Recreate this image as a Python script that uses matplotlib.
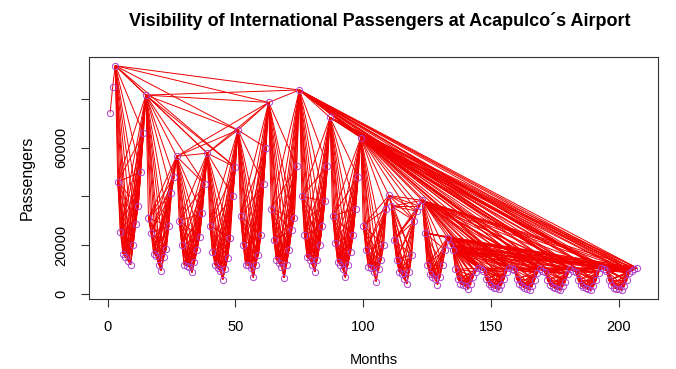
import numpy as np
import matplotlib
matplotlib.use("Agg")
import matplotlib.pyplot as plt
from matplotlib.collections import LineCollection

plt.rcParams['font.family'] = ['Liberation Sans', 'DejaVu Sans']

# monthly international passengers, one row per year (Jan..Dec)
year01 = [74500, 85000, 93800, 46000, 25500, 16500, 15000, 13500, 11800, 20000, 28500, 36000]
year02 = [50000, 66000, 81700, 31000, 25000, 16500, 15500, 12000, 9500, 15000, 18500, 28000]
year03 = [41500, 48000, 56500, 30000, 20000, 11800, 11500, 11000, 8800, 13000, 18000, 23500]
year04 = [33000, 45000, 57800, 28000, 17000, 12000, 10500, 9500, 5800, 10000, 14700, 23000]
year05 = [40000, 52000, 67300, 32000, 20000, 12000, 12000, 10500, 6700, 12000, 16000, 24000]
year06 = [45000, 60000, 78700, 35000, 22000, 14000, 12500, 11000, 6500, 12000, 18000, 26000]
year07 = [31000, 52500, 83800, 40000, 24000, 15000, 14000, 12000, 9000, 14000, 20000, 28000]
year08 = [38000, 52500, 72500, 32000, 21000, 13000, 12000, 10000, 6700, 12000, 17000, 24000]
year09 = [35000, 48000, 64200, 28000, 18000, 11000, 10500, 9000, 5000, 10000, 14000, 20000]
year10 = [35000, 40400, 36000, 22000, 14000, 9000, 8000, 6000, 4000, 9000, 16000, 30000]
year11 = [34000, 36000, 38400, 25000, 12000, 8000, 7000, 6000, 3700, 7000, 12000, 18000]
year12 = [23000, 20000, 18000, 10000, 6000, 4000, 3500, 3000, 2000, 4000, 7000, 9000]
year13 = [10500, 10000, 9500, 6000, 4000, 3000, 2500, 2200, 1800, 3500, 6000, 9000]
year14 = [10500, 10000, 9800, 6000, 4000, 3000, 2500, 2000, 1500, 3000, 5500, 8500]
year15 = [10000, 9500, 9000, 5500, 3500, 2800, 2200, 1800, 1500, 3000, 5000, 8000]
year16 = [10000, 9500, 9000, 5500, 3500, 2600, 2200, 1800, 1500, 3000, 5500, 8500]
year17 = [10500, 10000, 9500, 5500, 3500, 2500, 2000, 1800, 1500, 3000, 5500, 8500]
year18 = [9500, 10000, 10600]

passengers = np.array(year01 + year02 + year03 + year04 + year05 + year06 + year07 + year08 +
                      year09 + year10 + year11 + year12 + year13 + year14 + year15 + year16 +
                      year17 + year18, dtype=float)
months = np.arange(1, len(passengers) + 1)

x_ticks = [0, 50, 100, 150, 200]
y_ticks = [0, 20000, 40000, 60000, 80000]
y_tick_labels = ['0', '20000', '', '60000', '']

# natural visibility graph edges
edges = []
n = len(passengers)
for a in range(n):
   for b in range(a + 1, n):
      ya, yb = passengers[a], passengers[b]
      visible = True
      for c in range(a + 1, b):
         if passengers[c] >= yb + (ya - yb) * (b - c) / (b - a):
            visible = False
            break
      if visible:
         edges.append([(months[a], ya), (months[b], yb)])

fig = plt.figure(figsize=(6.76, 3.69), dpi=100)
ax = fig.add_axes([0.1317, 0.1897, 0.8417, 0.6566])

ax.add_collection(LineCollection(edges, colors='#f00000', linewidths=0.7, zorder=2))
ax.plot(months, passengers, linestyle='none', marker='o', markersize=4.5,
        markerfacecolor='none', markeredgecolor='#b040c8', markeredgewidth=0.7, zorder=3)

pad_x = 0.04 * (months.max() - months.min())
pad_y = 0.04 * (passengers.max() - passengers.min())
ax.set_xlim(months.min() - pad_x, months.max() + pad_x)
ax.set_ylim(passengers.min() - pad_y, passengers.max() + pad_y)

ax.set_xticks(x_ticks)
ax.set_yticks(y_ticks)
ax.set_yticklabels(y_tick_labels, rotation=90, va='center')
ax.tick_params(direction='out', length=6, width=0.8, color='#333333', labelsize=10.5, pad=9)
for s in ax.spines.values():
   s.set_color('#333333')
   s.set_linewidth(0.8)

ax.set_xlabel('Months', fontsize=10.5, labelpad=14)
ax.set_ylabel('Passengers', fontsize=11.5, labelpad=14)
fig.text(0.562, 0.943, 'Visibility of International Passengers at Acapulco\u00b4s Airport',
         ha='center', va='center', fontsize=13, fontweight='bold')

fig.savefig('out.png', dpi=100)
